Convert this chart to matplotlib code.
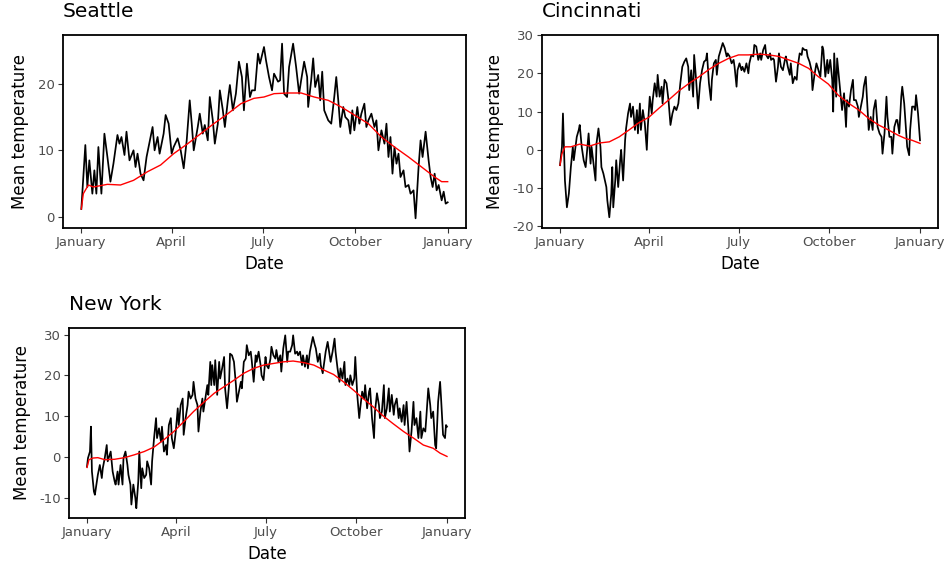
import matplotlib
matplotlib.use("Agg")
import matplotlib.pyplot as plt
import numpy as np

plt.rcParams['font.family'] = ['DejaVu Sans']
plt.rcParams['axes.unicode_minus'] = False

# ---------------- data (day of year, mean temperature) ----------------
seattle_day = [0, 4, 6, 8, 11, 13, 15, 17, 20, 23, 26, 29, 32, 36, 38, 40, 43, 45, 48, 52,
               54, 56, 59, 62, 65, 67, 71, 73, 76, 78, 82, 84, 87, 90, 92, 96, 99, 102, 105, 108,
               110, 112, 116, 118, 121, 123, 126, 128, 131, 133, 136, 138, 141, 143, 146, 148, 151, 154, 157, 160,
               162, 165, 168, 170, 173, 176, 178, 182, 184, 187, 190, 192, 196, 198, 200, 202, 205, 207, 211, 214,
               217, 219, 222, 225, 226, 229, 231, 233, 236, 238, 240, 242, 246, 249, 252, 254, 256, 258, 261, 263,
               266, 268, 270, 272, 275, 277, 279, 282, 284, 286, 289, 292, 294, 296, 299, 302, 304, 306, 308, 310,
               312, 314, 316, 318, 321, 323, 326, 328, 331, 333, 336, 338, 340, 343, 346, 348, 350, 352, 354, 356,
               359, 361, 363, 365]
seattle_temp = [1.2, 10.8, 4.5, 8.5, 3.5, 7.0, 3.5, 10.5, 3.5, 12.5, 9.0, 5.3, 8.0, 12.3, 11.0, 12.0, 9.3, 12.8, 8.5, 10.0,
                7.5, 9.5, 6.5, 5.5, 9.0, 10.5, 13.5, 10.0, 12.0, 9.5, 12.5, 15.3, 14.0, 9.5, 10.5, 11.8, 10.0, 7.3, 11.5, 17.5,
                14.0, 10.0, 13.5, 15.5, 12.5, 13.8, 11.5, 18.0, 14.5, 11.0, 14.0, 19.0, 16.0, 13.5, 17.5, 19.8, 16.0, 18.5, 23.3, 21.0,
                16.0, 23.0, 18.0, 19.0, 19.0, 24.5, 23.0, 25.5, 23.5, 21.0, 19.0, 21.5, 20.3, 20.5, 26.0, 18.5, 18.0, 22.5, 26.0, 22.5,
                18.5, 20.5, 23.3, 21.0, 16.5, 20.5, 23.8, 19.5, 21.3, 17.5, 21.8, 16.0, 14.5, 14.0, 18.0, 21.0, 17.5, 13.5, 16.5, 15.0,
                14.5, 12.5, 16.0, 13.0, 16.5, 14.0, 15.5, 17.0, 13.5, 14.5, 15.5, 13.5, 14.5, 10.0, 13.0, 11.0, 14.0, 9.0, 12.0, 6.5,
                10.5, 8.0, 9.5, 6.0, 7.0, 4.5, 4.8, 3.5, 4.0, -0.2, 7.5, 11.5, 9.0, 12.8, 8.5, 6.0, 4.5, 6.5, 4.0, 4.8,
                2.5, 3.8, 2.0, 2.2]
seattle_smooth_day = [0, 2, 7, 12, 26, 39, 52, 66, 79, 92, 106, 119, 132, 146, 159, 172, 182, 192, 206, 219,
                      232, 246, 259, 272, 286, 299, 312, 326, 339, 352, 359, 365]
seattle_smooth = [1.2, 3.5, 4.8, 4.5, 4.9, 4.8, 5.5, 6.8, 7.8, 9.5, 11.0, 12.5, 14.0, 15.5, 17.0, 17.8, 18.0, 18.5, 18.6, 18.6,
                  18.0, 17.5, 16.5, 15.3, 14.0, 12.0, 10.5, 9.0, 7.5, 6.0, 5.3, 5.3]

cinci_day = [0, 2, 3, 5, 7, 9, 11, 13, 14, 17, 19, 20, 22, 24, 26, 29, 31, 32, 34, 36,
             37, 39, 41, 42, 44, 47, 48, 50, 52, 53, 54, 56, 57, 59, 61, 62, 64, 66, 67, 69,
             71, 72, 74, 76, 78, 79, 81, 82, 84, 86, 88, 89, 91, 93, 94, 96, 98, 99, 101, 103,
             104, 106, 108, 110, 112, 114, 116, 118, 120, 122, 124, 126, 128, 130, 131, 133, 135, 136, 138, 140,
             142, 144, 146, 148, 149, 151, 153, 154, 156, 158, 159, 161, 163, 165, 167, 169, 170, 172, 174, 176,
             177, 179, 180, 182, 184, 185, 187, 189, 191, 192, 194, 196, 197, 199, 201, 203, 204, 206, 208, 209,
             211, 213, 214, 216, 217, 219, 221, 222, 224, 226, 228, 229, 231, 233, 234, 236, 238, 240, 241, 243,
             245, 246, 248, 250, 251, 253, 255, 256, 258, 260, 262, 264, 266, 267, 269, 271, 272, 274, 276, 277,
             278, 280, 281, 283, 285, 286, 288, 290, 291, 293, 295, 297, 298, 300, 302, 303, 305, 307, 308, 310,
             312, 313, 315, 317, 318, 320, 322, 324, 326, 327, 329, 331, 332, 334, 336, 337, 339, 341, 342, 344,
             346, 347, 349, 351, 352, 354, 355, 357, 359, 360, 361, 363, 365]
cinci_temp = [-4.0, 0.8, 9.5, -8.0, -15.0, -11.4, -4.5, 0.8, -2.7, 3.4, 5.2, 6.5, 0.8, -2.7, -4.5, 4.3, -3.6, 0.8, -3.6, -8.0,
              1.7, 5.6, 0.8, -4.5, -6.2, -9.7, -13.2, -17.6, -11.4, -4.5, -15.0, -8.0, -2.7, -9.7, -2.7, 0.0, -8.0, 2.5, 5.6, 9.5,
              12.1, 8.6, 11.3, 5.2, 10.4, 4.3, 12.1, 5.2, 10.4, 6.9, 0.0, 6.0, 13.9, 9.5, 13.0, 17.4, 13.9, 19.6, 13.9, 16.5,
              12.1, 18.3, 17.4, 13.0, 6.5, 9.5, 11.3, 10.4, 12.1, 17.4, 21.7, 23.0, 23.9, 21.7, 15.6, 20.8, 13.9, 24.8, 18.3, 10.8,
              17.4, 20.8, 23.0, 23.5, 25.2, 17.4, 13.0, 18.3, 22.6, 23.5, 19.6, 24.4, 26.1, 27.9, 26.6, 24.4, 25.2, 24.4, 22.6, 23.5,
              21.7, 16.5, 20.8, 22.6, 20.8, 21.7, 20.4, 22.6, 20.0, 22.6, 24.8, 24.4, 27.4, 27.0, 23.5, 25.2, 23.5, 26.1, 27.4, 24.8,
              23.9, 25.2, 23.5, 23.9, 23.5, 17.8, 21.7, 25.2, 21.7, 20.8, 23.5, 24.4, 21.7, 19.6, 22.6, 17.4, 19.1, 18.3, 21.7, 25.2,
              24.8, 26.6, 26.1, 26.1, 24.4, 23.0, 20.8, 15.6, 19.6, 22.6, 20.8, 19.1, 27.0, 26.1, 19.1, 23.5, 20.0, 23.5, 18.3, 10.0,
              25.2, 13.9, 23.9, 18.3, 13.0, 10.4, 14.8, 6.0, 13.0, 11.3, 15.6, 18.3, 13.0, 13.0, 11.3, 8.6, 11.3, 13.9, 16.5, 19.1,
              9.5, 5.2, 8.6, 5.2, 10.4, 13.0, 6.0, 4.3, 3.4, -1.0, 4.3, 13.9, 8.6, 3.4, 3.4, -1.0, 6.0, 7.8, 7.8, 4.3,
              13.9, 16.5, 12.1, 4.3, 0.8, -1.4, 5.2, 11.3, 11.3, 10.4, 14.3, 9.5, 2.5]
cinci_smooth_day = [0, 2, 5, 11, 20, 30, 40, 50, 60, 70, 80, 90, 100, 110, 121, 131, 141, 151, 161, 171,
                    181, 191, 202, 212, 222, 232, 242, 252, 262, 272, 282, 293, 303, 313, 323, 333, 343, 350, 357, 365]
cinci_smooth = [-4.0, -1.0, 0.8, 0.8, 1.5, 1.0, 1.8, 2.1, 3.4, 5.2, 7.1, 8.5, 10.8, 13.0, 15.5, 17.4, 19.1, 21.0, 22.6, 23.9,
                24.8, 24.8, 25.0, 24.8, 24.4, 23.5, 22.6, 21.3, 19.1, 17.2, 14.3, 12.1, 10.4, 8.2, 6.5, 5.2, 3.8, 3.0, 2.5, 1.7]

ny_day = [0, 1, 3, 4, 5, 7, 8, 10, 11, 13, 15, 16, 18, 20, 21, 23, 24, 26, 28, 29,
          31, 32, 34, 36, 37, 39, 41, 42, 44, 45, 47, 49, 50, 52, 53, 55, 56, 58, 60, 61,
          63, 65, 66, 68, 70, 71, 73, 75, 76, 78, 80, 81, 83, 85, 86, 88, 90, 92, 93, 95,
          97, 98, 100, 102, 103, 105, 107, 108, 110, 112, 113, 115, 117, 118, 120, 122, 123, 125, 126, 127,
          129, 130, 132, 134, 135, 137, 139, 140, 142, 144, 145, 147, 149, 151, 152, 154, 156, 157, 159, 161,
          162, 164, 166, 167, 169, 171, 172, 174, 176, 177, 179, 181, 182, 184, 186, 187, 189, 191, 192, 194,
          196, 197, 199, 201, 203, 204, 206, 208, 209, 211, 213, 214, 216, 218, 219, 221, 223, 224, 226, 229,
          231, 232, 234, 236, 237, 239, 241, 242, 244, 246, 247, 249, 251, 252, 254, 256, 257, 259, 261, 262,
          264, 266, 267, 269, 271, 272, 274, 276, 277, 279, 281, 282, 284, 286, 287, 289, 291, 292, 294, 296,
          297, 299, 301, 302, 304, 306, 307, 309, 311, 312, 314, 316, 317, 319, 321, 322, 324, 326, 327, 329,
          331, 332, 334, 336, 338, 339, 341, 343, 344, 346, 348, 349, 351, 353, 354, 356, 358, 359, 361, 363,
          364, 365]
ny_temp = [-2.4, -0.3, 1.3, 7.4, -3.6, -8.5, -9.3, -6.0, -4.4, -2.0, -5.2, -2.8, -0.3, 2.9, -1.1, 0.5, 1.3, -3.6, -6.0, -6.8,
           -3.6, -6.8, -2.0, -6.8, -0.3, 1.3, -2.0, -4.4, -6.8, -11.7, -6.8, -10.1, -12.6, -6.0, 1.3, -7.7, -2.8, -5.2, -4.4, -1.1,
           -2.8, -6.8, -1.1, 4.6, 9.5, 4.6, 7.0, 3.7, 7.4, 1.3, 2.9, 0.5, 7.8, 9.5, 4.6, 2.1, 6.2, 11.9, 7.8, 12.7,
           14.3, 5.4, 9.5, 12.7, 16.0, 14.3, 15.2, 18.4, 14.3, 12.7, 6.2, 11.1, 14.3, 11.1, 14.3, 17.6, 15.2, 23.3, 17.6, 22.5,
           17.6, 23.7, 15.2, 23.3, 19.2, 21.7, 24.5, 16.8, 11.9, 17.6, 25.3, 24.9, 23.3, 17.6, 13.5, 16.0, 18.4, 16.8, 23.3, 24.1,
           27.4, 24.9, 25.8, 23.7, 18.4, 24.9, 23.3, 25.8, 22.5, 20.0, 18.8, 24.5, 22.5, 21.7, 24.1, 27.0, 24.9, 24.1, 26.2, 23.3,
           24.9, 20.9, 26.6, 29.8, 23.3, 25.8, 25.8, 27.4, 29.8, 25.3, 25.8, 24.9, 25.8, 22.5, 24.9, 22.1, 24.9, 21.7, 25.8, 29.4,
           27.4, 26.6, 23.3, 25.3, 22.5, 20.5, 24.1, 25.8, 28.2, 24.9, 23.3, 25.8, 29.0, 25.8, 21.7, 18.4, 21.7, 19.2, 23.3, 17.6,
           19.2, 17.6, 20.0, 17.6, 19.2, 24.5, 15.2, 9.5, 11.9, 16.0, 14.3, 17.6, 11.9, 16.0, 16.8, 9.5, 4.6, 11.1, 15.6, 12.7,
           9.5, 11.1, 17.6, 9.5, 11.9, 16.8, 11.1, 15.2, 10.3, 12.7, 14.3, 9.5, 11.9, 8.6, 12.7, 7.8, 13.5, 6.2, 1.3, 6.2,
           13.5, 7.8, 9.5, 4.6, 11.1, 4.6, 7.0, 6.2, 9.5, 16.8, 12.7, 9.5, 11.1, 2.9, 2.1, 13.5, 18.4, 14.3, 5.4, 4.6,
           7.8, 7.4]
ny_smooth_day = [0, 2, 6, 11, 18, 28, 38, 48, 58, 68, 78, 88, 98, 108, 119, 129, 139, 149, 159, 169,
                 179, 189, 199, 209, 220, 230, 240, 250, 260, 270, 280, 290, 300, 310, 321, 331, 341, 351, 358, 365]
ny_smooth = [-2.6, -0.7, -0.3, -0.2, -0.7, -0.6, -0.2, 0.5, 1.3, 2.4, 4.2, 6.2, 8.6, 11.1, 13.5, 15.6, 17.2, 18.8, 20.5, 21.7,
             22.5, 22.9, 23.3, 23.5, 23.1, 22.5, 21.3, 20.2, 18.4, 16.4, 14.3, 12.3, 10.1, 8.2, 6.2, 4.6, 2.9, 2.1, 0.9, 0.1]

tick_days = [0, 90, 181, 273, 365]
tick_labels = ["January", "April", "July", "October", "January"]

W, H = 953, 572
fig = plt.figure(figsize=(W / 100, H / 100), dpi=100)

panels = [
    ("Seattle", seattle_day, seattle_temp, seattle_smooth_day, seattle_smooth,
     (63, 35, 466, 228), (-1.65, 27.3), [0, 10, 20]),
    ("Cincinnati", cinci_day, cinci_temp, cinci_smooth_day, cinci_smooth,
     (542, 35, 938, 228), (-20.4, 30.0), [-20, -10, 0, 10, 20, 30]),
    ("New York", ny_day, ny_temp, ny_smooth_day, ny_smooth,
     (69, 328, 465, 518), (-15.0, 31.6), [-10, 0, 10, 20, 30]),
]

for title, d, t, sd, st, (x0, y0, x1, y1), ylim, yt in panels:
    ax = fig.add_axes([x0 / W, 1 - y1 / H, (x1 - x0) / W, (y1 - y0) / H])
    ax.plot(d, t, color='black', lw=1.25, solid_joinstyle='round')
    ax.plot(sd, st, color='red', lw=1.0)
    ax.set_xlim(-18.25, 365 + 18.25)
    ax.set_ylim(*ylim)
    ax.set_xticks(tick_days)
    ax.set_xticklabels(tick_labels)
    ax.set_yticks(yt)
    for s in ax.spines.values():
        s.set_linewidth(1.3)
        s.set_color('black')
    ax.tick_params(direction='out', length=3.5, width=0.8, color='#333333',
                   labelsize=9.5, labelcolor='#4D4D4D', pad=2.5)
    ax.set_xlabel("Date", fontsize=12, labelpad=4)
    ax.set_ylabel("Mean temperature", fontsize=12, labelpad=6)
    ax.set_title(title, loc='left', fontsize=14.5, pad=13)

fig.savefig("out.png", dpi=100, facecolor='white')
